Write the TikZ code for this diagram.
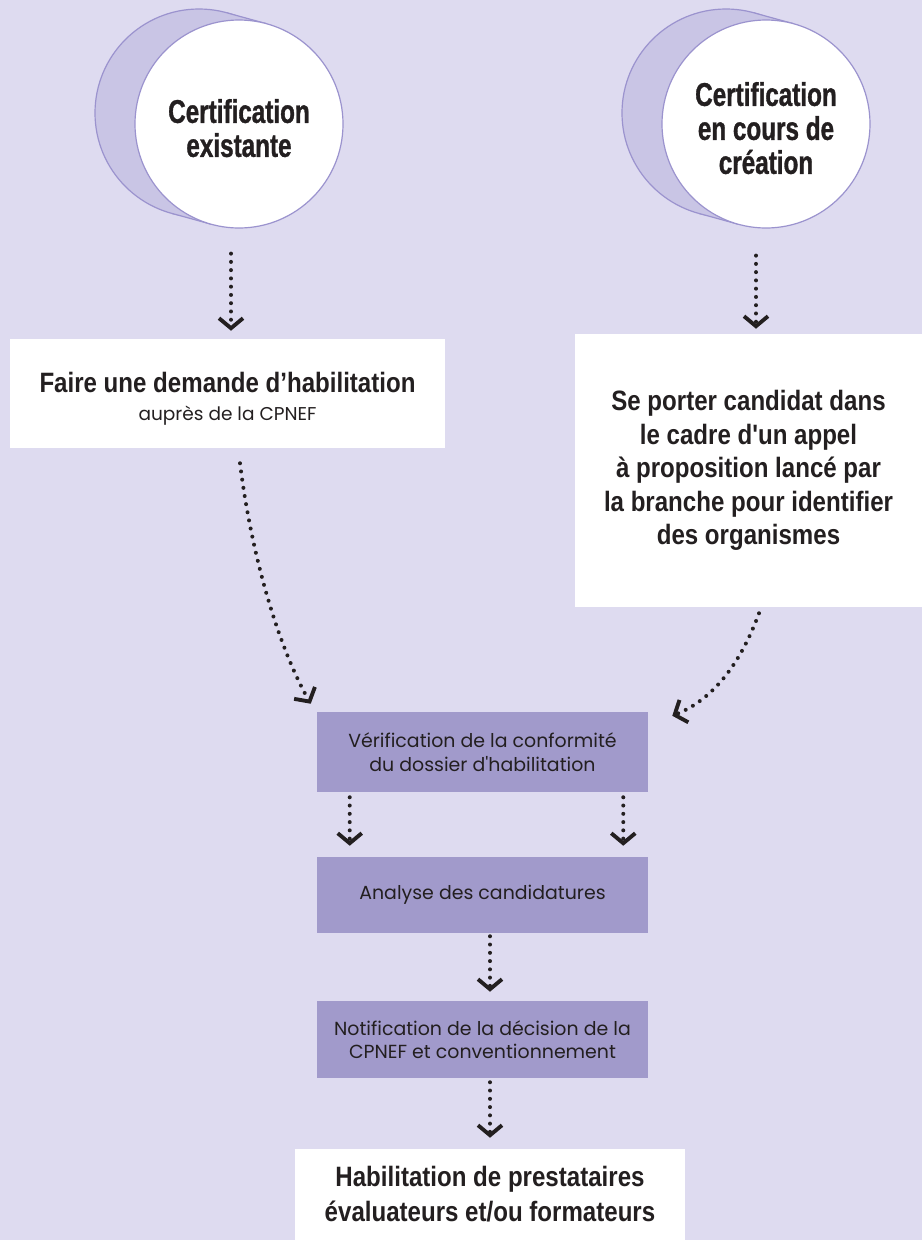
\documentclass[tikz,border=0pt]{standalone}
\usepackage{fontspec}
\usetikzlibrary{calc,arrows.meta}
\newfontfamily\circfont[FakeStretch=0.74,FakeBold=1]{Liberation Sans}
\newfontfamily\headfont[FakeStretch=0.86]{Liberation Sans}
\newfontfamily\bodyfont{Poppins}
\definecolor{bg}{RGB}{222,219,240}
\definecolor{boxc}{RGB}{161,154,203}
\definecolor{backc}{RGB}{201,197,229}
\definecolor{outl}{RGB}{155,147,206}
\definecolor{ink}{RGB}{35,31,32}
\begin{document}
\begin{tikzpicture}[x=0.75pt,y=-0.75pt,
  circ/.style={circle, fill=white, draw=outl, line width=0.9pt, minimum size=156pt, inner sep=0pt,
    text=ink, align=center, font=\circfont\bfseries\fontsize{24.6}{25.5}\selectfont},
  whitebox/.style={rectangle, fill=white, inner sep=0pt, text=ink, align=center},
  headtxt/.style={font=\headfont\bfseries\fontsize{21}{#1}\selectfont},
  purplebox/.style={rectangle, fill=boxc, inner sep=0pt, minimum width=248.25pt, text=ink,
    align=center, font=\bodyfont\fontsize{14.2}{#1}\selectfont},
  flow/.style={draw=ink, line width=3pt, line cap=round, dash pattern=on 0pt off 6.2pt,
    -{Straight Barb[length=7.5pt,width=18pt,line width=2.9pt]}},
  backshape/.style={fill=backc},
  backline/.style={draw=outl, line width=0.9pt}
]
\useasboundingbox (0,0) rectangle (922,1240);
\fill[bg] (0,0) rectangle (922,1240);

% cylinders behind the circles
\foreach \bx/\by/\fx/\fy in {199/113/239/124, 726/113/766/124}{
  \coordinate (bk) at (\bx,\by);
  \coordinate (fr) at (\fx,\fy);
  \coordinate (t1) at ($(bk)!78pt!90:(fr)$);
  \coordinate (t2) at ($(bk)!78pt!-90:(fr)$);
  \coordinate (t3) at ($(fr)!78pt!-90:(bk)$);
  \coordinate (t4) at ($(fr)!78pt!90:(bk)$);
  \fill[backshape] (bk) circle[radius=78pt];
  \draw[backline] (bk) circle[radius=78pt];
  \fill[backshape] (t1) -- (t3) -- (t4) -- (t2) -- cycle;
  \draw[backline] (t1) -- (t3);
  \draw[backline] (t2) -- (t4);
}

\node[circ] (c1) at (239,124) {\rule{0pt}{24pt}Certification\\existante};
\node[circ] (c2) at (766,124) {\rule{0pt}{24pt}Certification\\en cours de\\création};

\node[whitebox, minimum width=326.25pt, minimum height=81.75pt, font=\fontsize{12}{21}\selectfont]
  (ld) at (227.5,393.5)
  {\rule{0pt}{23pt}{\headfont\bfseries\fontsize{21}{21}\selectfont Faire une demande d’habilitation}\\
   {\bodyfont\fontsize{13.9}{21}\selectfont auprès de la CPNEF}};

\node[whitebox, minimum width=260.25pt, minimum height=204.75pt, headtxt=25.1pt]
  (rd) at (748.5,470.5)
  {Se porter candidat dans\\le cadre d'un appel\\à proposition lancé par\\la branche pour identifier\\des organismes};

\node[purplebox=18pt, minimum height=60pt] (b1) at (482.5,752)
  {Vérification de la conformité\\du dossier d'habilitation};
\node[purplebox=18pt, minimum height=57pt] (b2) at (482.5,895)
  {Analyse des candidatures};
\node[purplebox=17pt, minimum height=57.75pt] (b3) at (482.5,1039.5)
  {Notification de la décision de la\\CPNEF et conventionnement};

\node[whitebox, minimum width=292.5pt, minimum height=68.25pt, headtxt=26.25pt]
  (bt) at (490,1194.5)
  {Habilitation de prestataires\\évaluateurs et/ou formateurs};

% connectors
\draw[flow] ($(c1.south)+(-8,25)$) -- ($(ld.north)+(3.5,-8)$);
\draw[flow] ($(c2.south)+(-10,27)$) -- ($(rd.north)+(7.5,-5)$);
\draw[flow] ($(ld.south)+(12.5,15)$) .. controls (252,560) and (280,650) .. ($(b1.north west)+(-6,-8)$);
\draw[flow] ($(rd.south)+(10.5,6)$) .. controls (740,665) and (712,700) .. ($(b1.north east)+(24,4)$);
\draw[flow] ($(b1.south west)+(33,5)$) -- ($(b2.north west)+(33,-11)$);
\draw[flow] ($(b1.south east)+(-25,5)$) -- ($(b2.north east)+(-25,-11)$);
\draw[flow] ($(b2.south)+(7.5,3)$) -- ($(b3.north)+(7.5,-9)$);
\draw[flow] ($(b3.south)+(7.5,4)$) -- ($(bt.north)+(0,-11)$);
\end{tikzpicture}
\end{document}
